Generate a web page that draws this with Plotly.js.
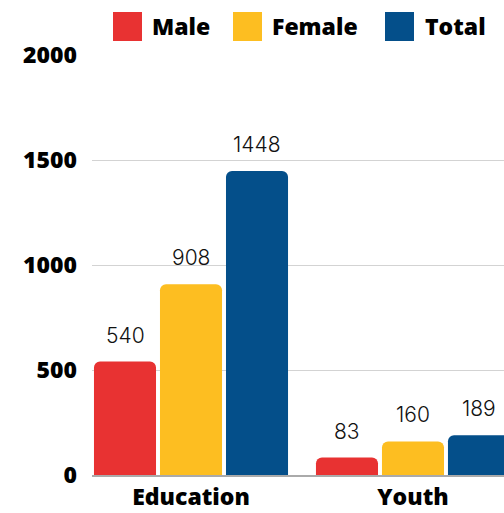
<!DOCTYPE html>
<html>
<head>
<meta charset="utf-8">
<script src="https://cdn.plot.ly/plotly-3.0.1.min.js"></script>
<style>html,body{margin:0;padding:0;background:#fff;}#chart{width:504px;height:513px;}</style>
</head>
<body>
<div id="chart"></div>
<script>
const categories = ["Education", "Youth"];
const seriesNames = ["Male", "Female", "Total"];
const maleValues = [540, 83];
const femaleValues = [908, 160];
const totalValues = [1448, 189];
const yTickValues = [0, 500, 1000, 1500, 2000];
const colors = ["#E83232", "#FDBE21", "#044F8A"];

const seriesValues = [maleValues, femaleValues, totalValues];
const traces = seriesValues.map((vals, i) => ({
  type: "bar",
  name: seriesNames[i],
  x: categories,
  y: vals,
  marker: {color: colors[i], cornerradius: 6},
  cliponaxis: true,
  hoverinfo: "none",
  showlegend: false
}));

// value labels: placed at each bar's (category, value) via the axes
const slotPx = 66;
const valueLabels = [];
seriesValues.forEach((vals, i) => {
  vals.forEach((v, j) => {
    valueLabels.push({
      xref: "x", yref: "y", x: categories[j], y: v,
      xshift: (i - 1) * slotPx, yshift: 12,
      xanchor: "center", yanchor: "bottom", showarrow: false,
      text: String(v),
      font: {family: "Inter, Roboto, sans-serif", size: 21, color: "#111", weight: 300}
    });
  });
});

// legend drawn as shapes + annotations (positions in paper space)
const legendSquares = [[0.051, 0.1214], [0.3422, 0.4126], [0.7112, 0.7816]];
const legendText = [0.1408, 0.432, 0.8034];
const shapes = legendSquares.map((p, i) => ({
  type: "rect", xref: "paper", yref: "paper",
  x0: p[0], x1: p[1], y0: 1.0333, y1: 1.1024,
  fillcolor: colors[i], line: {width: 0}
}));
const legendLabels = seriesNames.map((n, i) => ({
  xref: "paper", yref: "paper", x: legendText[i], y: 1.0679,
  xanchor: "left", yanchor: "middle", showarrow: false, text: n,
  font: {family: "Open Sans, Lato, sans-serif", size: 23, color: "#000", weight: 800}
}));

const layout = {
  width: 504, height: 513,
  margin: {l: 92, r: 0, t: 55, b: 38},
  paper_bgcolor: "#fff", plot_bgcolor: "#fff",
  barmode: "group",
  bargap: 0.108,
  bargroupgap: 0.06,
  showlegend: false,
  xaxis: {
    type: "category",
    range: [-0.446, 1.41],
    showgrid: false,
    showline: true, linecolor: "#aaaaaa", linewidth: 2,
    ticks: "",
    ticklabelstandoff: 0,
    tickfont: {family: "Open Sans, Lato, sans-serif", size: 23, color: "#000", weight: 800},
    fixedrange: true
  },
  yaxis: {
    range: [0, 2000],
    tickvals: yTickValues,
    showgrid: true, gridcolor: "#d3d3d3", gridwidth: 1,
    zeroline: false, showline: false,
    ticks: "",
    ticklabelstandoff: 14,
    tickfont: {family: "Open Sans, Lato, sans-serif", size: 23, color: "#000", weight: 800},
    fixedrange: true
  },
  shapes: shapes,
  annotations: valueLabels.concat(legendLabels)
};

Plotly.newPlot("chart", traces, layout, {displayModeBar: false, staticPlot: true});
</script>
</body>
</html>
